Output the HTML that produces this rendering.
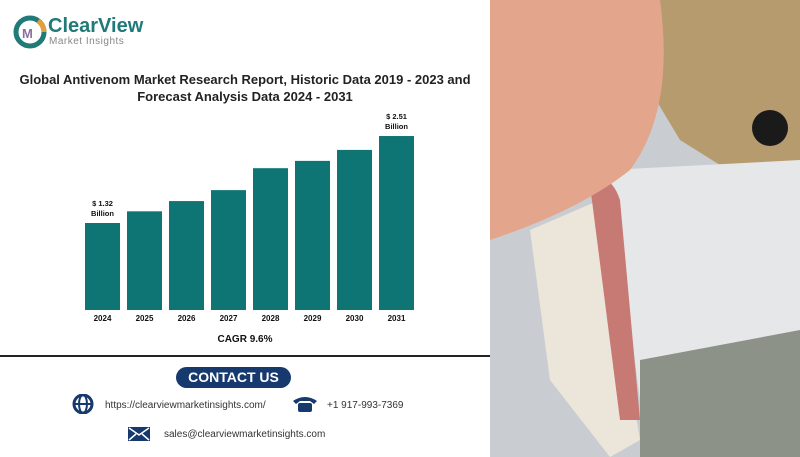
<!DOCTYPE html>
<html><head><meta charset="utf-8"><style>
body{margin:0;width:800px;height:457px;overflow:hidden;background:#fff;font-family:"Liberation Sans",sans-serif;position:relative}
.abs{position:absolute}
</style></head><body>
<div class="abs" style="left:12px;top:14px;width:140px;height:36px">
<svg width="36" height="36" style="position:absolute;left:0;top:0"><circle cx="18" cy="18" r="14" fill="none" stroke="#1f7a78" stroke-width="5"/><path d="M26 7 A14 14 0 0 1 32 18" stroke="#e3a03a" stroke-width="5" fill="none"/><text x="10" y="24" font-size="13" font-weight="bold" fill="#8a6fa0" font-family="Liberation Sans">M</text></svg>
<div class="abs" style="left:36px;top:1px;font-size:20px;font-weight:bold;color:#1f7a78">ClearView</div>
<div class="abs" style="left:37px;top:22px;font-size:10px;color:#888;letter-spacing:0.5px">Market Insights</div>
</div>
<div class="abs" style="left:0;top:71px;width:490px;text-align:center;font-size:13px;font-weight:bold;color:#222;line-height:17px">Global Antivenom Market Research Report, Historic Data 2019 - 2023 and<br>Forecast Analysis Data 2024 - 2031</div>
<svg class="abs" id="chart" style="left:0;top:100px" width="490" height="240"></svg>
<div class="abs" style="left:0;top:334px;width:490px;text-align:center;font-size:10px;font-weight:bold;color:#111">CAGR 9.6%</div>
<div class="abs" style="left:0;top:355px;width:490px;height:2px;background:#222"></div>
<div class="abs" style="left:176px;top:367px;width:115px;height:21px;border-radius:11px;background:#163a6e;color:#fff;font-weight:bold;font-size:14px;text-align:center;line-height:21px">CONTACT US</div>
<svg class="abs" style="left:72px;top:394px" width="22" height="20"><circle cx="11" cy="10" r="9" fill="none" stroke="#163a6e" stroke-width="3"/><line x1="2" y1="10" x2="20" y2="10" stroke="#163a6e" stroke-width="2"/><ellipse cx="11" cy="10" rx="4" ry="9" fill="none" stroke="#163a6e" stroke-width="2"/></svg>
<div class="abs" style="left:105px;top:400px;font-size:10px;color:#333">https://clearviewmarketinsights.com/</div>
<svg class="abs" style="left:292px;top:395px" width="26" height="18"><path d="M1 6 Q13 -2 25 6 L22 9 L18 6 L8 6 L4 9Z" fill="#163a6e"/><rect x="6" y="8" width="14" height="9" rx="2" fill="#163a6e"/></svg>
<div class="abs" style="left:327px;top:400px;font-size:10px;color:#333">+1 917-993-7369</div>
<svg class="abs" style="left:128px;top:427px" width="22" height="14"><rect width="22" height="14" fill="#163a6e"/><path d="M1 1 L11 8 L21 1 M1 13 L8 7 M21 13 L14 7" stroke="#fff" stroke-width="1.5" fill="none"/></svg>
<div class="abs" style="left:164px;top:429px;font-size:10px;color:#333">sales@clearviewmarketinsights.com</div>

<svg class="abs" style="left:490px;top:0" width="310" height="457">
<rect width="310" height="457" fill="#c9cdd1"/>
<path d="M170 0 L310 0 L310 180 L230 165 L190 140 L160 90Z" fill="#b59b6e"/>
<path d="M120 170 L310 160 L310 400 L150 400Z" fill="#e6e7e9"/>
<path d="M150 360 L310 330 L310 457 L150 457Z" fill="#8d9289"/>
<path d="M40 230 L110 200 L150 440 L120 457 L60 380Z" fill="#ece6da"/>
<path d="M100 185 Q120 170 130 200 L150 420 L130 420Z" fill="#c77a74"/>
<path d="M0 0 L170 0 Q185 110 140 170 Q90 210 0 240Z" fill="#e3a58c"/>
<circle cx="280" cy="128" r="18" fill="#1a1a1a"/>
</svg>

<script>
const years=["2024","2025","2026","2027","2028","2029","2030","2031"];
const values=[1.32,1.48,1.62,1.77,2.07,2.17,2.32,2.51];
const labelIdx=[0,7];
const svg=document.getElementById('chart');
const NS='http://www.w3.org/2000/svg';
const base=210, k=73.1, v0=0.13;
const y=v=>base-(v-v0)*k;
const x=i=>85+i*42;
years.forEach((yr,i)=>{
 const r=document.createElementNS(NS,'rect');
 r.setAttribute('x',x(i));r.setAttribute('y',y(values[i]));
 r.setAttribute('width',35);r.setAttribute('height',base-y(values[i]));
 r.setAttribute('fill','#0f7474');
 
 
 svg.appendChild(r);
 const t=document.createElementNS(NS,'text');
 t.setAttribute('x',x(i)+17.5);t.setAttribute('y',base+11);
 t.setAttribute('text-anchor','middle');t.setAttribute('font-size','8');t.setAttribute('font-weight','bold');t.setAttribute('fill','#111');
 t.textContent=yr;
 
 
 svg.appendChild(t);
});
labelIdx.forEach(i=>{
 ['$ '+values[i].toFixed(2),'Billion'].forEach((s,j)=>{
  const t=document.createElementNS(NS,'text');
  t.setAttribute('x',x(i)+17.5);t.setAttribute('y',y(values[i])-17+j*10);
  t.setAttribute('text-anchor','middle');t.setAttribute('font-size','7.5');t.setAttribute('font-weight','bold');t.setAttribute('fill','#111');
  t.textContent=s;
  
  
  svg.appendChild(t);
 });
});
</script>
</body></html>
